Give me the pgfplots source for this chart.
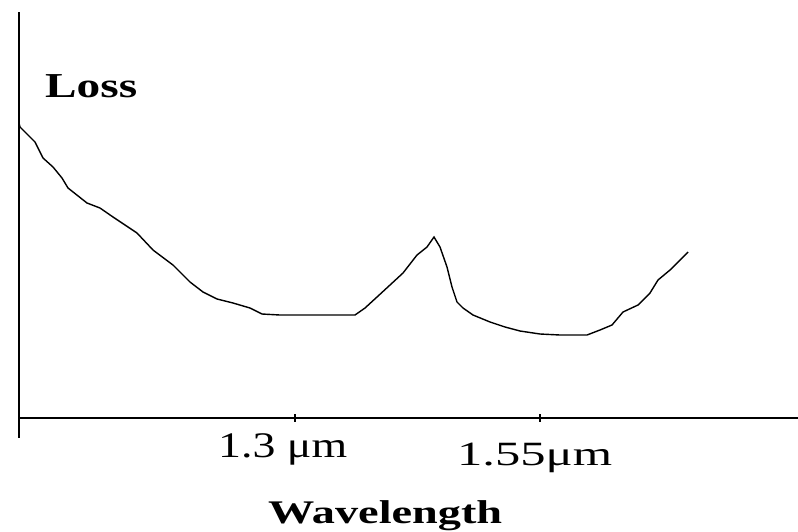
\documentclass[border=0pt]{standalone}
\usepackage{pgfplots}
\pgfplotsset{compat=1.18}
\usepackage{fontspec}
\setmainfont{Liberation Serif}
\begin{document}
\begin{tikzpicture}
\begin{axis}[
  scale only axis, width=798pt, height=531pt,
  xmin=0, xmax=798, ymin=0, ymax=531, y dir=reverse,
  axis lines=none, clip=false,
]
\path[use as bounding box] (axis cs:0,0) rectangle (axis cs:798,531);
% axes
\draw[line width=2pt] (axis cs:19,12) -- (axis cs:19,438);
\draw[line width=1.5pt] (axis cs:19,418) -- (axis cs:798,418);
\draw[line width=1.3pt] (axis cs:295,414) -- (axis cs:295,422);
\draw[line width=1.3pt] (axis cs:540,414) -- (axis cs:540,422);
% curve
\addplot[black, line width=1.4pt, mark=none] coordinates {
(19,123) (20,127) (35,142) (43,158) (53,167) (62,178) (68,188) (87,203)
(100,208) (113,217) (125,225) (137,233) (153,250) (173,265) (190,282)
(203,292) (217,299) (233,303) (250,308) (262,314) (280,315) (320,315)
(355,315) (365,308) (377,297) (390,285) (403,273) (417,255) (427,247)
(434,237) (440,247) (447,267) (452,287) (457,302) (463,308) (473,315)
(490,322) (505,327) (520,331) (540,334) (560,335) (587,335) (600,330)
(612,325) (623,312) (638,305) (650,293) (658,280) (670,270) (688,252)
};
% labels
\node[anchor=base west, inner sep=0pt] at (axis cs:45,97)
  {\resizebox{92pt}{\height}{\fontsize{35}{40}\selectfont\bfseries Loss}};
\node[anchor=base west, inner sep=0pt] at (axis cs:218,457)
  {\resizebox{129pt}{\height}{\fontsize{36}{40}\selectfont 1.3 μm}};
\node[anchor=base west, inner sep=0pt] at (axis cs:457,465)
  {\resizebox{155pt}{\height}{\fontsize{34}{40}\selectfont 1.55μm}};
\node[anchor=base west, inner sep=0pt] at (axis cs:268,523)
  {\resizebox{234pt}{\height}{\fontsize{33}{40}\selectfont\bfseries Wavelength}};
\end{axis}
\end{tikzpicture}
\end{document}
